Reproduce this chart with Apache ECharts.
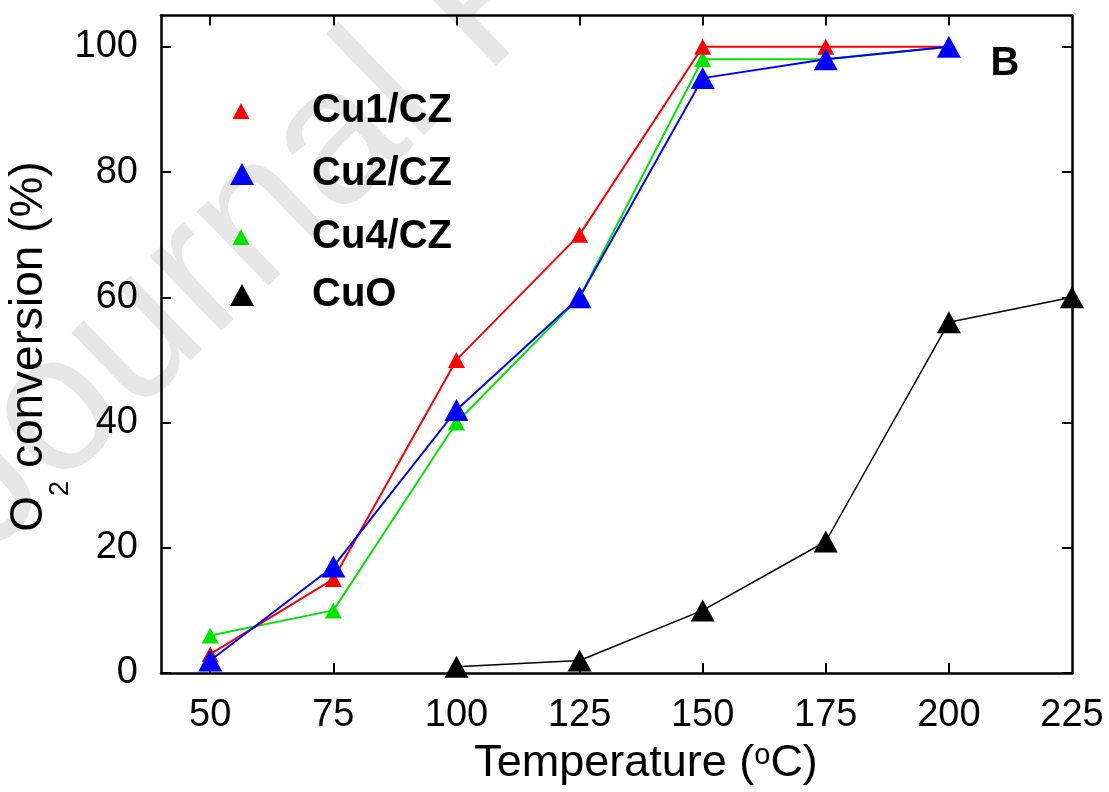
<!DOCTYPE html>
<html>
<head>
<meta charset="utf-8">
<script src="https://cdn.jsdelivr.net/npm/echarts@6/dist/echarts.min.js"></script>
<style>
html,body{margin:0;padding:0;background:#fff;}
#chart{width:1109px;height:792px;}
</style>
</head>
<body>
<div id="chart"></div>
<script>
const temperatures = [50, 75, 100, 125, 150, 175, 200, 225];
const xTickValues = [50, 75, 100, 125, 150, 175, 200];
const xLabelValues = [50, 75, 100, 125, 150, 175, 200, 225];
const yTickValues = [0, 20, 40, 60, 80, 100];

const cu1cz = [[50, 3], [75, 15], [100, 50], [125, 70], [150, 100], [175, 100], [200, 100]];
const cu2cz = [[50, 2], [75, 17], [100, 42], [125, 60], [150, 95], [175, 98], [200, 100]];
const cu4cz = [[50, 6], [75, 10], [100, 40], [125, 60], [150, 98], [175, 98], [200, 100]];
const cuo   = [[100, 1], [125, 2], [150, 10], [175, 21], [200, 56], [225, 60]];

const FONT = 'Liberation Sans, Arial, sans-serif';
const chart = echarts.init(document.getElementById('chart'));

function legendFor(name, color, w, h, cx, cy) {
  return {
    show: true,
    data: [{ name: name, icon: 'triangle', itemStyle: { color: color } }],
    left: cx - w / 2,
    top: cy - 20,
    padding: 0,
    itemWidth: w,
    itemHeight: h,
    selectedMode: false,
    textStyle: {
      fontFamily: FONT, fontSize: 40, fontWeight: 'bold', color: '#000',
      lineHeight: 40, padding: [0, 0, 0, 312 - (cx - w / 2) - w - 5]
    }
  };
}

const axisLineStyle = { color: '#000', width: 2.5 };
const wmAngle = 44 * Math.PI / 180;

chart.setOption({
  animation: false,
  backgroundColor: '#fff',
  grid: { left: 161, right: 37, top: 15.5, bottom: 119, containLabel: false },
  xAxis: [
    {
      type: 'value', min: 40, max: 225, position: 'bottom',
      axisLine: { show: true, onZero: false, lineStyle: axisLineStyle },
      axisTick: { show: true, inside: true, length: 10, lineStyle: { color: '#000', width: 2 }, customValues: xTickValues },
      axisLabel: { show: true, customValues: xLabelValues, margin: 24, fontFamily: FONT, fontSize: 38, color: '#000' },
      splitLine: { show: false }
    },
    {
      type: 'value', min: 40, max: 225, position: 'top',
      axisLine: { show: true, onZero: false, lineStyle: axisLineStyle },
      axisTick: { show: true, inside: true, length: 10, lineStyle: { color: '#000', width: 2 }, customValues: xTickValues },
      axisLabel: { show: false },
      splitLine: { show: false }
    }
  ],
  yAxis: [
    {
      type: 'value', min: 0, max: 105, position: 'left',
      axisLine: { show: true, onZero: false, lineStyle: axisLineStyle },
      axisTick: { show: true, inside: true, length: 10, lineStyle: { color: '#000', width: 2 }, customValues: yTickValues },
      axisLabel: { show: true, customValues: yTickValues, margin: 23, fontFamily: FONT, fontSize: 38, color: '#000' },
      splitLine: { show: false }
    },
    {
      type: 'value', min: 0, max: 105, position: 'right',
      axisLine: { show: true, onZero: false, lineStyle: axisLineStyle },
      axisTick: { show: true, inside: true, length: 10, lineStyle: { color: '#000', width: 2 }, customValues: yTickValues },
      axisLabel: { show: false },
      splitLine: { show: false }
    }
  ],
  legend: [
    legendFor('Cu1/CZ', '#ff0000', 17, 16, 241, 111),
    legendFor('Cu2/CZ', '#0000ff', 24, 22, 242, 174),
    legendFor('Cu4/CZ', '#00e600', 17, 16, 241, 237),
    legendFor('CuO', '#000000', 24, 22, 242, 295)
  ],
  graphic: [
    {
      type: 'text', z: -10, silent: true,
      x: 16, y: 590, rotation: wmAngle,
      style: { text: 'Journal Pre-proof', fontFamily: FONT, fontSize: 195, fill: '#e6e6e6', textAlign: 'left', textVerticalAlign: 'bottom' }
    },
    {
      type: 'text', silent: true, x: 1005, y: 64,
      style: { text: 'B', fontFamily: FONT, fontSize: 40, fontWeight: 'bold', fill: '#000', textAlign: 'center', textVerticalAlign: 'middle' }
    },
    {
      type: 'text', silent: true, x: 646, y: 764,
      style: {
        text: '{m|Temperature (}{s|o}{m|C)}',
        textAlign: 'center', textVerticalAlign: 'middle',
        rich: {
          m: { fontFamily: FONT, fontSize: 45, lineHeight: 45, fill: '#000', color: '#000' },
          s: { fontFamily: FONT, fontSize: 29, verticalAlign: 'top', fill: '#000', color: '#000' }
        }
      }
    },
    {
      type: 'text', silent: true, x: 29, y: 346.5, rotation: Math.PI / 2,
      style: {
        text: '{m|O}{s|2}{m| conversion (%)}',
        textAlign: 'center', textVerticalAlign: 'middle',
        rich: {
          m: { fontFamily: FONT, fontSize: 46, lineHeight: 90, fill: '#000', color: '#000' },
          s: { fontFamily: FONT, fontSize: 27, lineHeight: 27, verticalAlign: 'bottom', fill: '#000', color: '#000' }
        }
      }
    }
  ],
  series: [
    {
      name: 'Cu1/CZ', type: 'line', data: cu1cz, z: 3,
      symbol: 'triangle', symbolSize: [17, 16], showAllSymbol: true,
      itemStyle: { color: '#ff0000' }, lineStyle: { color: '#ff0000', width: 2 }
    },
    {
      name: 'Cu2/CZ', type: 'line', data: cu2cz, z: 4,
      symbol: 'triangle', symbolSize: [24, 22], showAllSymbol: true,
      itemStyle: { color: '#0000ff' }, lineStyle: { color: '#0000ff', width: 2 }
    },
    {
      name: 'Cu4/CZ', type: 'line', data: cu4cz, z: 2,
      symbol: 'triangle', symbolSize: [17, 16], showAllSymbol: true,
      itemStyle: { color: '#00e600' }, lineStyle: { color: '#00e600', width: 2 }
    },
    {
      name: 'CuO', type: 'line', data: cuo, z: 5,
      symbol: 'triangle', symbolSize: [24, 22], showAllSymbol: true,
      itemStyle: { color: '#000000' }, lineStyle: { color: '#000000', width: 1.5 }
    }
  ]
});
</script>
</body>
</html>
